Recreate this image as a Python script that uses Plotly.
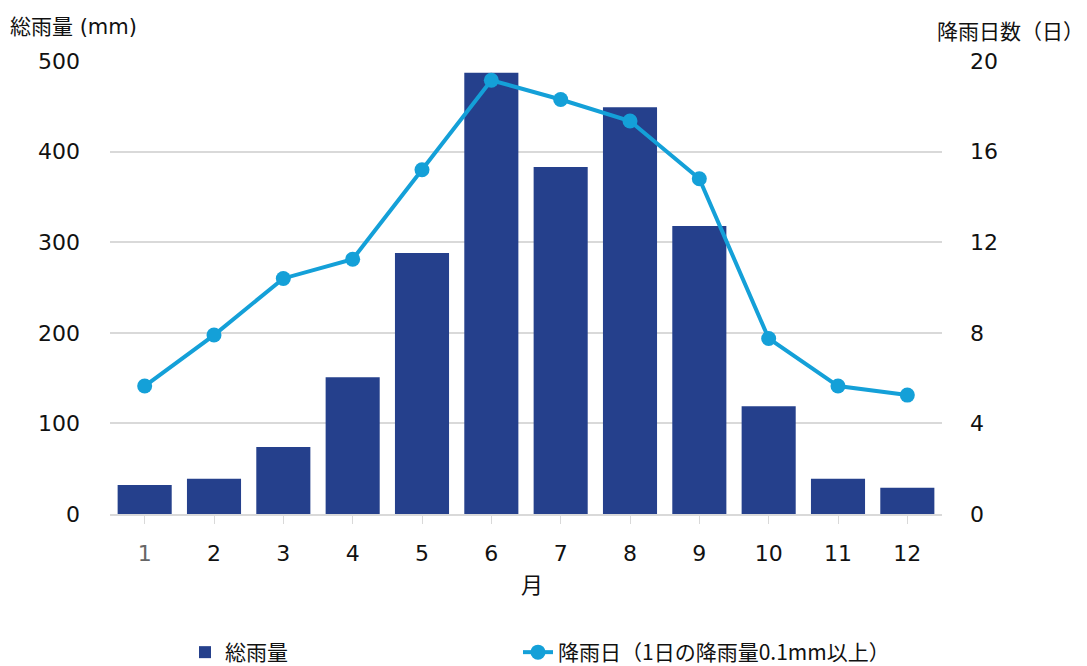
import plotly.graph_objects as go

months = [1, 2, 3, 4, 5, 6, 7, 8, 9, 10, 11, 12]
month_labels = ["<span style='color:#666666'>1</span>", "2", "3", "4", "5", "6", "7", "8", "9", "10", "11", "12"]
rain_mm = [32, 39, 74, 151, 288, 487, 383, 449, 318, 119, 39, 29]
rain_days = [5.65, 7.9, 10.4, 11.25, 15.2, 19.15, 18.3, 17.35, 14.8, 7.75, 5.65, 5.25]

FONT = "DejaVu Sans, Noto Sans CJK JP, sans-serif"
JFONT = "Noto Sans CJK JP, sans-serif"
PW, PH, L, T = 832, 453, 110, 61

fig = go.Figure()
fig.add_trace(go.Bar(
    x=months, y=rain_mm, name="総雨量", legend="legend",
    marker=dict(color="#25408C", line=dict(width=0)),
))
fig.add_trace(go.Scatter(
    x=months, y=rain_days, name="降雨日（1日の降雨量0.1mm以上）", yaxis="y2", legend="legend2",
    mode="lines+markers",
    line=dict(color="#14A0D8", width=4),
    marker=dict(color="#14A0D8", size=15),
))

leg_common = dict(orientation="h", xanchor="left", yanchor="top", y=-(632 - 514) / PH,
                  font=dict(size=21, family=JFONT), bgcolor="rgba(0,0,0,0)")

fig.update_layout(
    width=1087, height=666,
    margin=dict(l=L, r=145, t=T, b=152, autoexpand=False),
    paper_bgcolor="white", plot_bgcolor="white",
    font=dict(family=FONT, size=22, color="#111111"),
    bargap=0.22,
    showlegend=True,
    legend=dict(x=(185 - L) / PW, **leg_common),
    legend2=dict(x=(518 - L) / PW, **leg_common),
    xaxis=dict(
        tickmode="array", tickvals=months, ticktext=month_labels,
        range=[0.5, 12.5],
        showline=True, linecolor="#d9d9d9", linewidth=1.5,
        ticks="outside", tickson="boundaries", ticklen=8, tickcolor="#d9d9d9",
        showgrid=False, ticklabelstandoff=11,
        tickfont=dict(size=22),
    ),
    yaxis=dict(
        range=[0, 500], dtick=100, showgrid=True, gridcolor="#d9d9d9", gridwidth=1.5,
        zeroline=False, ticklabelstandoff=29, tickfont=dict(size=22),
    ),
    yaxis2=dict(
        range=[0, 20], dtick=4, overlaying="y", side="right", showgrid=False,
        zeroline=False, ticklabelstandoff=27, tickfont=dict(size=22),
    ),
    annotations=[
        dict(text="総雨量 (mm)", xref="paper", yref="paper", x=(8 - L) / PW, y=1 + 34 / PH,
             xanchor="left", yanchor="middle", showarrow=False,
             font=dict(size=21, family=FONT)),
        dict(text="降雨日数（日）", xref="paper", yref="paper", x=(1086 - L) / PW, y=1 + 31 / PH,
             xanchor="right", yanchor="middle", showarrow=False,
             font=dict(size=21, family=JFONT)),
        dict(text="月", xref="paper", yref="paper", x=(532 - L) / PW, y=-(583 - 514) / PH,
             xanchor="center", yanchor="middle", showarrow=False,
             font=dict(size=22, family=JFONT)),
    ],
)

fig.write_html("out.html")
